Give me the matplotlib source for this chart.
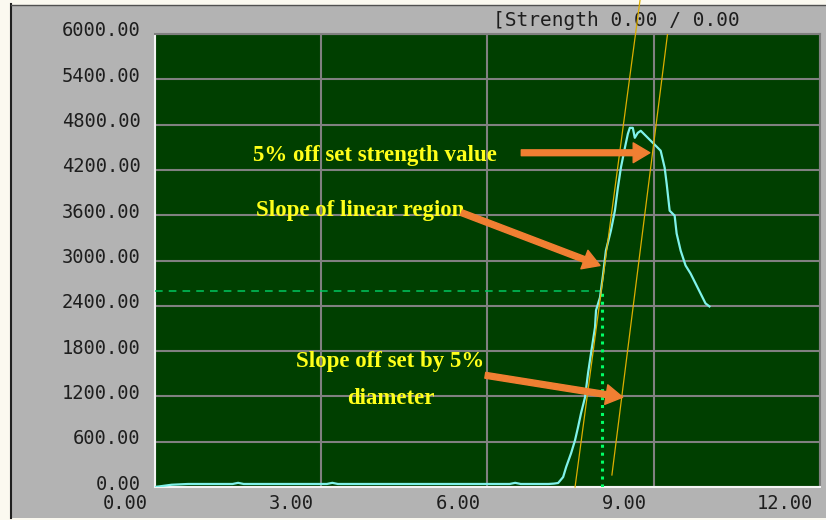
import matplotlib
matplotlib.use("Agg")
import matplotlib.pyplot as plt
from matplotlib.patches import Rectangle, FancyArrowPatch
from matplotlib.lines import Line2D
import matplotlib.transforms as mtransforms

# ---------------- data ----------------
curve_x = [0.00, 0.30, 0.60, 1.40, 1.50, 1.60, 3.10, 3.20, 3.30, 5.00, 6.40, 6.50, 6.60, 7.10, 7.20,
           7.275, 7.365, 7.419, 7.509, 7.580, 7.634, 7.688, 7.760, 7.814, 7.868, 7.940, 7.958,
           8.030, 8.083, 8.137, 8.227, 8.299, 8.353, 8.407, 8.479, 8.533, 8.568, 8.622, 8.658,
           8.712, 8.766, 8.856, 8.946, 9.036, 9.125, 9.197, 9.233, 9.287, 9.377, 9.413, 9.485,
           9.574, 9.664, 9.754, 9.844, 9.934, 10.005]
curve_y = [0, 30, 40, 40, 55, 40, 40, 55, 40, 40, 40, 55, 40, 40, 45,
           53, 132, 264, 449, 621, 793, 978, 1189, 1507, 1771, 2114, 2339,
           2511, 2802, 3132, 3396, 3660, 3965, 4229, 4493, 4678, 4757, 4757, 4625,
           4691, 4718, 4652, 4586, 4520, 4454, 4229, 4017, 3660, 3594, 3357, 3132,
           2934, 2828, 2696, 2564, 2432, 2392]

x_ticks = [0, 3, 6, 9, 12]
x_tick_labels = ["0.00", "3.00", "6.00", "9.00", "12.00"]
y_ticks = [0, 600, 1200, 1800, 2400, 3000, 3600, 4200, 4800, 5400, 6000]
y_tick_labels = ["0.00", "600.00", "1200.00", "1800.00", "2400.00", "3000.00",
                 "3600.00", "4200.00", "4800.00", "5400.00", "6000.00"]

yield_level = 2600          # dashed horizontal reference
yield_x = 8.07              # dotted vertical reference
slope_line_x = [7.58, 8.78]
slope_line_y = [0, 6600]
offset_line_x = [8.245, 9.251]
offset_line_y = [159, 6013]

header_text = "[Strength 0.00 / 0.00"
labels = ["5% off set strength value", "Slope of linear region",
          "Slope off set by 5%", "diameter"]

# ---------------- figure ----------------
W, H = 826, 520
fig = plt.figure(figsize=(W / 100, H / 100), dpi=100)
fig.patch.set_facecolor("#fbf9f0")

def fx(px):
    return px / W

def fy(py):
    return 1 - py / H

# gray panel and dark frame lines
fig.patches.append(Rectangle((fx(11), fy(518)), fx(826 - 11), (518 - 5) / H,
                             transform=fig.transFigure, facecolor="#b3b3b3",
                             edgecolor="none", zorder=-5))
fig.lines.append(Line2D([fx(10.5), fx(10.5)], [fy(4), fy(518)], transform=fig.transFigure,
                        color="#202020", lw=1.5, zorder=-4))
fig.lines.append(Line2D([fx(10.5), fx(826)], [fy(4.5), fy(4.5)], transform=fig.transFigure,
                        color="#505050", lw=1.0, zorder=-4))

ax = fig.add_axes([fx(155), fy(487), fx(820 - 155), (487 - 34) / H])
ax.set_zorder(2)
ax.set_facecolor("#003f00")
ax.set_xlim(0, 12)
ax.set_ylim(0, 6000)

for s in ["top", "right"]:
    ax.spines[s].set_color("#808080")
    ax.spines[s].set_linewidth(1.5)
for s in ["left", "bottom"]:
    ax.spines[s].set_color("#f4f4f4")
    ax.spines[s].set_linewidth(1.5)

ax.set_xticks(x_ticks)
ax.set_xticklabels(x_tick_labels)
ax.set_yticks(y_ticks)
ax.set_yticklabels(y_tick_labels)
ax.tick_params(length=0, colors="#1e1e1e")
ax.tick_params(axis="y", pad=10.5)
ax.tick_params(axis="x", pad=5.0)
ax.grid(True, color="#808080", lw=1.5)
ax.set_axisbelow(True)

mono = "DejaVu Sans Mono"
for lab in ax.get_yticklabels():
    lab.set_fontfamily(mono)
    lab.set_fontsize(13.5)
    lab.set_transform(lab.get_transform() +
                      mtransforms.ScaledTranslation(0, 5 / 100, fig.dpi_scale_trans))
for lab in ax.get_xticklabels():
    lab.set_fontfamily(mono)
    lab.set_fontsize(13.5)
    lab.set_horizontalalignment("right")
    lab.set_transform(lab.get_transform() +
                      mtransforms.ScaledTranslation(-7 / 100, 0, fig.dpi_scale_trans))

# curve
ax.plot(curve_x, curve_y, color="#7ff2ea", lw=1.6, zorder=5)

# reference lines
ax.plot([0, yield_x], [yield_level, yield_level], color="#00c860", lw=1.1,
        ls=(0, (5, 4)), zorder=4)
ax.plot([yield_x, yield_x], [0, yield_level], color="#00ff66", lw=2.2,
        ls=(0, (1, 1.6)), zorder=4)

# slope lines
ax.plot(slope_line_x, slope_line_y, color="#dcae00", lw=0.9, zorder=6, clip_on=False)
ax.plot(offset_line_x, offset_line_y, color="#dcae00", lw=0.9, zorder=6)

# annotations
txt_kw = dict(color="#ffff1a", fontfamily="Liberation Serif", fontweight="bold",
              fontsize=16.5, va="center", ha="left", zorder=8)
ax.text(1.76, 4387, labels[0], **txt_kw)
ax.text(1.83, 3660, labels[1], **txt_kw)
ax.text(2.55, 1665, labels[2], **txt_kw)
ax.text(3.47, 1176, labels[3], **txt_kw)

arrow_kw = dict(arrowstyle="simple,head_length=0.8,head_width=0.95,tail_width=0.28",
                mutation_scale=15, color="#f07f32", shrinkA=0, shrinkB=0, zorder=9)
arrows = [((6.61, 4427), (8.93, 4427)),
          ((5.53, 3634), (8.03, 2934)),
          ((5.96, 1480), (8.44, 1189))]
for tail, tip in arrows:
    ax.add_patch(FancyArrowPatch(tail, tip, **arrow_kw))

# header
fig.text(fx(493), fy(20), header_text, fontfamily=mono, fontsize=14,
         color="#1e1e1e", va="center", ha="left", zorder=1)

fig.savefig("out.png", dpi=100, facecolor=fig.get_facecolor())
